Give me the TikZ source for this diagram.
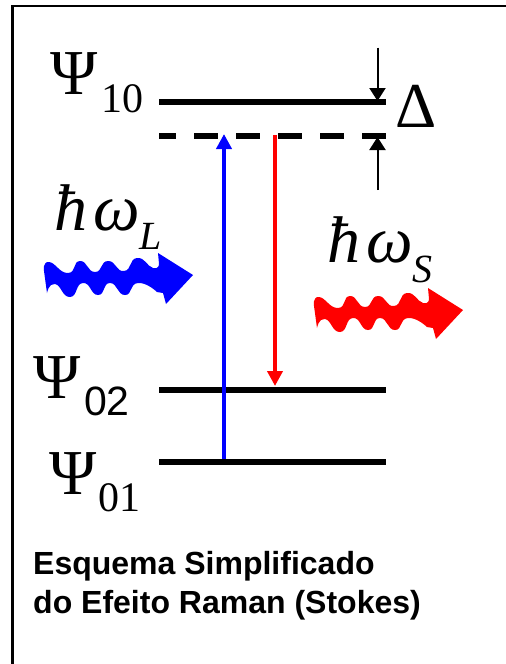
\documentclass[tikz,border=0pt]{standalone}
\usepackage{fontspec}
\setmainfont{Liberation Serif}
\setsansfont{Liberation Sans}
\usetikzlibrary{arrows.meta}

\tikzset{
    pics/photon/.style={code={
        \fill[#1] plot[smooth, tension=1] coordinates {(44,271) (49,262) (68,273) (80,261) (95,272) (108,261) (124,271) (137,258) (153,268) (159,264)}
            -- (158,253) -- (193,275) -- (166,304) -- (163,293)
            -- plot[smooth, tension=1] coordinates {(157,292) (138,283) (125,295) (110,283) (98,295) (83,283) (70,297) (55,284) (47,293)}
            -- cycle;
    }},
}

\begin{document}
\begin{tikzpicture}[
    x=1pt, y=-1pt,
    frame/.style={line width=2.5pt, line cap=rect},
    level/.style={line width=6pt},
    virtual/.style={line width=6pt, dash pattern=on 24pt off 18pt, dash phase=7pt},
    pump/.style={line width=4pt, blue, -{Triangle[length=15pt, width=15pt]}},
    scatter/.style={line width=4pt, red, -{Triangle[length=15pt, width=15pt]}},
    gap/.style={line width=2pt, -{Triangle[length=13pt, width=16pt]}},
    psi/.style={inner sep=0pt, anchor=base west, font=\fontsize{64}{64}\selectfont},
    idx/.style={inner sep=0pt, anchor=base west, font=\fontsize{42}{42}\selectfont},
    idxsans/.style={inner sep=0pt, anchor=base west, font=\sffamily\fontsize{41}{41}\selectfont},
    photonlabel/.style={inner sep=0pt, anchor=base west, font=\itshape\fontsize{66}{66}\selectfont},
    photonidx/.style={inner sep=0pt, anchor=base west, font=\itshape\fontsize{40}{40}\selectfont},
    caption/.style={inner sep=0pt, anchor=base west, align=left, font=\sffamily\bfseries\fontsize{32}{39}\selectfont},
]
\useasboundingbox (0,0) rectangle (506,664);

% Frame
\coordinate (framebl) at (12.5,664);
\coordinate (frametl) at (12.5,6);
\coordinate (frametr) at (506,6);
\draw[frame] (framebl) -- (frametl) -- (frametr);

% Levels
\coordinate (l10a) at (159,102);   \coordinate (l10b) at (386,102);
\coordinate (lva) at (159,136);    \coordinate (lvb) at (386,136);
\coordinate (l02a) at (159,389.5); \coordinate (l02b) at (386,389.5);
\coordinate (l01a) at (159,461.5); \coordinate (l01b) at (386,461.5);
\draw[level] (l10a) -- (l10b);
\draw[virtual] (lva) -- (lvb);
\draw[level] (l02a) -- (l02b);
\draw[level] (l01a) -- (l01b);

% Labels
\node[psi] (psi10) at (50,94) {Ψ};
\node[idx] (idx10) at (101,112) {10};
\node[psi] (psi02) at (33,398) {Ψ};
\node[idxsans] (idx02) at (84,415) {02};
\node[psi] (psi01) at (49,494) {Ψ};
\node[idx] (idx01) at (98,511) {01};
\node[psi] (delta) at (395,127) {Δ};

% Photons
\node[photonlabel] (hwl) at (54,230) {ħ\kern6ptω};
\node[photonidx] (subl) at (139,249) {L};
\node[photonlabel] (hws) at (327,262) {ħ\kern6ptω};
\node[photonidx] (subs) at (412,282) {S};
\pic at (0,0) {photon=blue};
\pic at (270,35) {photon=red};

% Arrows
\coordinate (pumpa) at (224,459);  \coordinate (pumpb) at (224,134);
\coordinate (scata) at (275,135);  \coordinate (scatb) at (275,386);
\draw[pump] (pumpa) -- (pumpb);
\draw[scatter] (scata) -- (scatb);

% Detuning
\coordinate (gapa) at (377.5,47.5);  \coordinate (gapb) at (377.5,101);
\coordinate (gapc) at (377.5,190);   \coordinate (gapd) at (377.5,137);
\draw[gap] (gapa) -- (gapb);
\draw[gap] (gapc) -- (gapd);

% Caption
\node[caption] (cap) at (33,613) {Esquema Simplificado\\do Efeito Raman (Stokes)};

\end{tikzpicture}
\end{document}
